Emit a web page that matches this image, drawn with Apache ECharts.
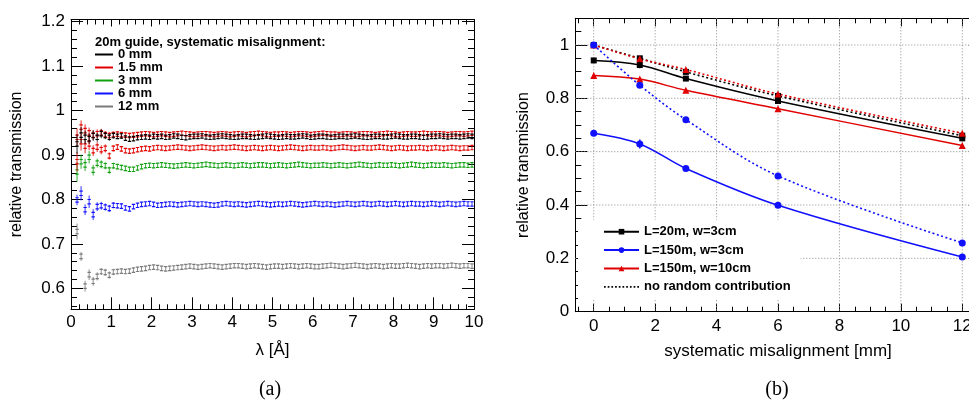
<!DOCTYPE html>
<html><head><meta charset="utf-8">
<script src="https://cdn.jsdelivr.net/npm/echarts@6/dist/echarts.min.js"></script>
<style>html,body{margin:0;padding:0;background:#fff}#c{width:969px;height:402px}</style>
</head><body><div id="c"></div><script>
// ---------- Panel (a) data: relative transmission vs wavelength ----------
const lam = [0.15,0.25,0.35,0.45,0.55,0.65,0.75,0.85,0.95,1.05,1.15,1.25,1.35,1.45,1.55,1.65,1.75,1.85,1.95,2.05,
2.15,2.25,2.35,2.45,2.55,2.65,2.75,2.85,2.95,3.05,3.15,3.25,3.35,3.45,3.55,3.65,3.75,3.85,3.95,4.05,
4.15,4.25,4.35,4.45,4.55,4.65,4.75,4.85,4.95,5.05,5.15,5.25,5.35,5.45,5.55,5.65,5.75,5.85,5.95,6.05,
6.15,6.25,6.35,6.45,6.55,6.65,6.75,6.85,6.95,7.05,7.15,7.25,7.35,7.45,7.55,7.65,7.75,7.85,7.95,8.05,
8.15,8.25,8.35,8.45,8.55,8.65,8.75,8.85,8.95,9.05,9.15,9.25,9.35,9.45,9.55,9.65,9.75,9.85,9.95];
const BIN_W = 0.1;
const STAT_ERR = 0.005;

const mm0 = [0.925,0.945,0.940,0.937,0.944,0.940,0.948,0.944,0.940,0.944,
0.942,0.943,0.938,0.936,0.937,0.939,0.940,0.941,0.940,0.942,
0.941,0.942,0.940,0.941,0.943,0.942,0.940,0.939,0.941,0.942,
0.942,0.943,0.941,0.940,0.941,0.942,0.943,0.942,0.941,0.940,
0.941,0.942,0.942,0.941,0.940,0.941,0.942,0.943,0.942,0.941,
0.940,0.941,0.942,0.941,0.941,0.942,0.943,0.942,0.940,0.941,
0.942,0.942,0.941,0.940,0.941,0.942,0.942,0.941,0.942,0.943,
0.942,0.941,0.940,0.941,0.942,0.942,0.941,0.941,0.942,0.943,
0.942,0.941,0.941,0.942,0.942,0.941,0.940,0.941,0.942,0.942,
0.943,0.942,0.941,0.942,0.942,0.941,0.942,0.943,0.942];
const mm0Err = [0.022,0.018,0.015,0.012,0.012,0.010,0.010,0.008,0.008,0.007,0.006,0.006];

const mm15a = [0.940,0.963,0.955,0.950,0.945,0.948,0.950,0.946,0.944,0.946,
0.947,0.946,0.945,0.944,0.945,0.946,0.947,0.948,0.947,0.946,
0.947,0.948,0.947,0.946,0.947,0.948,0.949,0.948,0.947,0.946,
0.947,0.948,0.948,0.947,0.946,0.947,0.948,0.947,0.946,0.947,
0.948,0.947,0.946,0.947,0.948,0.949,0.948,0.947,0.946,0.947,
0.947,0.948,0.947,0.946,0.947,0.948,0.948,0.947,0.946,0.947,
0.948,0.949,0.948,0.947,0.947,0.946,0.947,0.948,0.947,0.946,
0.947,0.948,0.948,0.947,0.946,0.947,0.948,0.949,0.948,0.947,
0.946,0.947,0.948,0.947,0.947,0.948,0.949,0.948,0.947,0.948,
0.948,0.947,0.946,0.947,0.948,0.948,0.947,0.948,0.949];
const mm15aErr = [0.020,0.015,0.014,0.012,0.011,0.010,0.009,0.008,0.008,0.007,0.006,0.006];

const mm15b = [0.885,0.930,0.920,0.925,0.910,0.918,0.912,0.915,0.898,0.915,
0.918,0.914,0.910,0.909,0.910,0.912,0.914,0.915,0.914,0.916,
0.917,0.916,0.915,0.916,0.917,0.918,0.917,0.916,0.915,0.916,
0.917,0.918,0.917,0.916,0.915,0.916,0.917,0.916,0.917,0.918,
0.917,0.916,0.915,0.916,0.917,0.916,0.915,0.916,0.917,0.916,
0.915,0.916,0.917,0.918,0.917,0.916,0.915,0.916,0.917,0.916,
0.916,0.917,0.916,0.915,0.916,0.917,0.918,0.917,0.916,0.915,
0.916,0.917,0.916,0.916,0.917,0.918,0.917,0.916,0.915,0.916,
0.917,0.916,0.915,0.916,0.916,0.917,0.916,0.915,0.916,0.917,
0.916,0.915,0.916,0.917,0.916,0.915,0.916,0.916,0.917];
const mm15bErr = [0.022,0.020,0.016,0.014,0.012,0.011,0.010,0.009,0.008,0.007,0.006,0.006];

const mm3 = [0.862,0.885,0.878,0.895,0.866,0.882,0.879,0.876,0.866,0.876,
0.874,0.872,0.870,0.868,0.868,0.871,0.874,0.876,0.877,0.876,
0.877,0.878,0.877,0.876,0.875,0.876,0.877,0.878,0.877,0.876,
0.877,0.878,0.879,0.878,0.877,0.876,0.877,0.878,0.877,0.876,
0.877,0.878,0.877,0.876,0.877,0.878,0.878,0.877,0.876,0.877,
0.878,0.877,0.876,0.877,0.878,0.879,0.878,0.877,0.876,0.877,
0.877,0.878,0.877,0.876,0.877,0.878,0.877,0.876,0.877,0.878,
0.879,0.878,0.877,0.876,0.877,0.878,0.877,0.877,0.878,0.877,
0.876,0.877,0.878,0.879,0.878,0.877,0.876,0.877,0.878,0.877,
0.877,0.878,0.877,0.876,0.877,0.878,0.878,0.877,0.878];
const mm3Err = [0.022,0.016,0.014,0.014,0.012,0.010,0.009,0.008,0.008,0.007,0.006,0.006];

const mm6 = [0.799,0.814,0.777,0.795,0.766,0.784,0.786,0.783,0.780,0.787,
0.786,0.785,0.781,0.779,0.784,0.787,0.789,0.790,0.791,0.789,
0.787,0.788,0.789,0.790,0.789,0.788,0.789,0.790,0.791,0.790,
0.789,0.790,0.789,0.788,0.787,0.788,0.790,0.791,0.790,0.789,
0.790,0.789,0.788,0.789,0.790,0.791,0.790,0.789,0.788,0.789,
0.790,0.789,0.790,0.791,0.790,0.789,0.788,0.789,0.790,0.791,
0.790,0.789,0.790,0.789,0.788,0.789,0.790,0.791,0.790,0.789,
0.790,0.791,0.790,0.789,0.790,0.791,0.790,0.789,0.790,0.791,
0.790,0.789,0.790,0.791,0.790,0.790,0.789,0.790,0.791,0.790,
0.789,0.790,0.791,0.790,0.789,0.790,0.791,0.790,0.790];
const mm6Err = [0.012,0.016,0.012,0.014,0.012,0.010,0.009,0.008,0.008,0.007,0.006,0.006];

const mm12 = [0.728,0.672,0.605,0.631,0.616,0.627,0.638,0.636,0.630,0.637,
0.638,0.639,0.638,0.639,0.641,0.643,0.644,0.645,0.647,0.648,
0.647,0.645,0.644,0.645,0.646,0.647,0.648,0.649,0.650,0.649,
0.648,0.649,0.650,0.651,0.650,0.649,0.648,0.649,0.650,0.651,
0.651,0.650,0.649,0.650,0.651,0.650,0.649,0.648,0.649,0.650,
0.650,0.649,0.650,0.651,0.650,0.649,0.650,0.651,0.650,0.649,
0.649,0.650,0.651,0.652,0.651,0.650,0.649,0.650,0.651,0.652,
0.651,0.650,0.649,0.650,0.651,0.650,0.649,0.650,0.651,0.650,
0.650,0.651,0.652,0.651,0.650,0.649,0.650,0.651,0.650,0.651,
0.651,0.650,0.651,0.652,0.651,0.650,0.651,0.651,0.650];
const mm12Err = [0.018,0.010,0.012,0.012,0.010,0.009,0.008,0.008,0.008,0.007,0.006,0.006];

const aXLabels = [0,1,2,3,4,5,6,7,8,9,10];
const aYLabels = [0.6,0.7,0.8,0.9,1,1.1,1.2];

// ---------- Panel (b) data: transmission vs systematic misalignment ----------
const misal = [0, 1.5, 3, 6, 12];
const l20w3 = [0.942, 0.925, 0.874, 0.790, 0.650];
const l20w3Err = [0.003, 0.012, 0.004, 0.003, 0.003];
const l20w3NoRand = [1.0, 0.950, 0.899, 0.809, 0.660];
const l150w3 = [0.669, 0.629, 0.537, 0.399, 0.205];
const l150w3Err = [0.008, 0.017, 0.005, 0.004, 0.004];
const l150w3NoRand = [1.0, 0.849, 0.720, 0.509, 0.258];
const l150w10 = [0.886, 0.872, 0.830, 0.761, 0.623];
const l150w10Err = [0.003, 0.004, 0.003, 0.003, 0.003];
const l150w10NoRand = [1.0, 0.948, 0.908, 0.816, 0.669];

const bXLabels = [0,2,4,6,8,10,12];
const bYLabels = [0,0.2,0.4,0.6,0.8,1];

// ---------- helpers ----------
const FONT = 'Liberation Sans, Arial, Helvetica, sans-serif';
function steps(from, to, step){ const r=[]; for(let k=0;;k++){ const v=+(from+k*step).toFixed(6); if(v>to+1e-9) break; r.push(v);} return r; }
const aXMinor = steps(0, 10, 0.2);
const aYMinor = steps(0.56, 1.2, 0.02);
const bXMinor = steps(-0.5, 12.5, 0.5);
const bYMinor = steps(0, 1.1, 0.05);

function tickAxis(gridIndex, min, max, position, ticks, len, line){
  return { type:'value', gridIndex, min, max, position,
    axisLine:{show:!!line, onZero:false, lineStyle:{color:'#000', width:1}},
    axisTick:{show:true, inside:true, length:len, customValues:ticks, lineStyle:{color:'#000', width:1}},
    axisLabel:{show:false}, splitLine:{show:false}, minorTick:{show:false}, axisPointer:{show:false} };
}
function mainAxis(gridIndex, min, max, position, ticks, len, name, nameGap, labelMargin, nameSize){
  const a = tickAxis(gridIndex, min, max, position, ticks, len, true);
  a.axisLabel = {show:true, customValues:ticks, color:'#000', fontSize:17, fontFamily:FONT, margin:labelMargin};
  a.name = name; a.nameLocation = 'middle'; a.nameGap = nameGap;
  a.nameTextStyle = {color:'#000', fontSize:nameSize, fontFamily:FONT};
  return a;
}

const A_YMIN = 0.553, A_YMAX = 1.205;
const B_XMIN = -0.6, B_XMAX = 12.6, B_YMIN = 0, B_YMAX = 1.1;

function errSeries(name, color, vals, errs, z){
  const data = lam.map((x,i)=>[x, vals[i], errs[i] !== undefined ? errs[i] : STAT_ERR]);
  return { type:'custom', name, xAxisIndex:0, yAxisIndex:0, data, z, clip:true,
    encode:{x:0, y:1}, itemStyle:{color}, silent:true,
    renderItem(params, api){
      const x=api.value(0), v=api.value(1), e=Math.max(api.value(2), STAT_ERR);
      const p=api.coord([x,v]);
      const yT=api.coord([x,v+e])[1], yB=api.coord([x,v-e])[1];
      const cT=api.coord([x,v+STAT_ERR])[1], cB=api.coord([x,v-STAT_ERR])[1];
      const hw=api.size([BIN_W,0])[0]*0.42;
      const st={stroke:color, lineWidth:1.2, fill:null};
      return {type:'group', children:[
        {type:'line', shape:{x1:p[0], y1:yT, x2:p[0], y2:yB}, style:{stroke:color, lineWidth:1, opacity:0.85}},
        {type:'line', shape:{x1:p[0]-hw, y1:cT, x2:p[0]+hw, y2:cT}, style:st},
        {type:'line', shape:{x1:p[0]-hw, y1:cB, x2:p[0]+hw, y2:cB}, style:st}
      ]};
    }
  };
}
function bErrSeries(color, vals, errs){
  return { type:'custom', xAxisIndex:4, yAxisIndex:4, z:4, silent:true,
    data: misal.map((x,i)=>[x, vals[i], errs[i]]), encode:{x:0,y:1},
    renderItem(params, api){
      const x=api.value(0), v=api.value(1), e=api.value(2);
      const t=api.coord([x,v+e]), b=api.coord([x,v-e]);
      return {type:'line', shape:{x1:t[0], y1:t[1], x2:b[0], y2:b[1]}, style:{stroke:color, lineWidth:1.5}};
    }
  };
}
function gridLines(vals, vertical){
  return { type:'custom', xAxisIndex:4, yAxisIndex:4, z:1, silent:true, clip:false,
    data: vals.map(v => vertical ? [v, 0.5] : [5, v]), encode:{x:0,y:1},
    renderItem(params, api){
      const cs = params.coordSys;
      const p = api.coord([api.value(0), api.value(1)]);
      const shape = vertical ? {x1:p[0], y1:cs.y, x2:p[0], y2:cs.y+cs.height}
                             : {x1:cs.x, y1:p[1], x2:cs.x+cs.width, y2:p[1]};
      return {type:'line', shape, style:{stroke:'#8a8a8a', lineWidth:1, lineDash:[1,2]}};
    }
  };
}
function bLine(name, vals, color, symbol, size, dotted, z){
  return { type:'line', name, xAxisIndex:4, yAxisIndex:4, z,
    data: misal.map((x,i)=>[x, vals[i]]), smooth:0.35, symbol, symbolSize:size, showAllSymbol:true,
    itemStyle:{color}, lineStyle:{color, width: dotted?1.6:1.5, type: dotted?[2,2.5]:'solid'},
    emphasis:{disabled:true}, animation:false };
}

const dotPath = 'path://' + steps(0, 32, 3.5).map(x=>`M${x} 0h1.6v1.6h-1.6z`).join('');

const C_BLACK='#000000', C_RED='#e00000', C_GREEN='#10a010', C_BLUE='#1010ff', C_GRAY='#7a7a7a';

const option = {
  animation:false,
  backgroundColor:'#fff',
  grid:[
    {left:71, top:19.5, width:403, height:289.8, outerBoundsMode:'none', containLabel:false},
    {left:575.3, top:18.3, right:-11.7, height:293.4, outerBoundsMode:'none', containLabel:false}
  ],
  xAxis:[
    mainAxis(0, 0, 10, 'bottom', aXLabels, 12, 'λ [Å]', 33, 5, 17),
    tickAxis(0, 0, 10, 'bottom', aXMinor, 5, false),
    tickAxis(0, 0, 10, 'top', aXLabels, 7, true),
    tickAxis(0, 0, 10, 'top', aXMinor, 5, false),
    mainAxis(1, B_XMIN, B_XMAX, 'bottom', bXLabels, 8, 'systematic misalignment [mm]', 31, 6, 17),
    tickAxis(1, B_XMIN, B_XMAX, 'bottom', bXMinor, 5, false),
    tickAxis(1, B_XMIN, B_XMAX, 'top', bXLabels, 8, true),
    tickAxis(1, B_XMIN, B_XMAX, 'top', bXMinor, 5, false)
  ],
  yAxis:[
    mainAxis(0, A_YMIN, A_YMAX, 'left', aYLabels, 12, 'relative transmission', 46, 6, 16),
    tickAxis(0, A_YMIN, A_YMAX, 'left', aYMinor, 6, false),
    tickAxis(0, A_YMIN, A_YMAX, 'right', aYLabels, 12, true),
    tickAxis(0, A_YMIN, A_YMAX, 'right', aYMinor, 6, false),
    mainAxis(1, B_YMIN, B_YMAX, 'left', bYLabels, 12, 'relative transmission', 44, 6, 16),
    tickAxis(1, B_YMIN, B_YMAX, 'left', bYMinor, 6, false),
    tickAxis(1, B_YMIN, B_YMAX, 'right', bYLabels, 12, true),
    tickAxis(1, B_YMIN, B_YMAX, 'right', bYMinor, 6, false)
  ],
  title:[{text:'20m guide, systematic misalignment:', left:95, top:35.5, padding:0,
    textStyle:{fontSize:13, fontWeight:'bold', fontFamily:FONT, color:'#000', lineHeight:13}}],
  legend:[
    {orient:'vertical', left:95, top:48, padding:0, itemGap:0, itemWidth:18, itemHeight:2, icon:'rect',
     selectedMode:false, data:['0 mm','1.5 mm','3 mm','6 mm','12 mm'],
     textStyle:{fontSize:13, fontWeight:'bold', fontFamily:FONT, color:'#000', lineHeight:12.2}},
    {orient:'vertical', left:578, top:219.7, padding:[5,10,5,25], itemGap:4.4, itemWidth:35, itemHeight:7,
     backgroundColor:'#fff', selectedMode:false,
     data:['L=20m, w=3cm','L=150m, w=3cm','L=150m, w=10cm',{name:'no random contribution', icon:dotPath}],
     textStyle:{fontSize:13, fontWeight:'bold', fontFamily:FONT, color:'#000', lineHeight:14}}
  ],
  graphic:[
    {type:'text', x:270, y:390, style:{text:'(a)', font:'20px "Liberation Serif", "Times New Roman", serif', fill:'#000', align:'center', verticalAlign:'middle', textAlign:'center', textVerticalAlign:'middle'}},
    {type:'text', x:777, y:390, style:{text:'(b)', font:'20px "Liberation Serif", "Times New Roman", serif', fill:'#000', align:'center', verticalAlign:'middle', textAlign:'center', textVerticalAlign:'middle'}}
  ],
  series:[
    errSeries('12 mm', C_GRAY, mm12, mm12Err, 2),
    errSeries('6 mm', C_BLUE, mm6, mm6Err, 2),
    errSeries('3 mm', C_GREEN, mm3, mm3Err, 2),
    errSeries('1.5 mm', C_RED, mm15b, mm15bErr, 2),
    errSeries('1.5 mm (set 2)', C_RED, mm15a, mm15aErr, 2),
    errSeries('0 mm', C_BLACK, mm0, mm0Err, 3),
    gridLines(bXLabels, true),
    gridLines([0.2,0.4,0.6,0.8,1], false),
    bLine('L=20m, w=3cm', l20w3, C_BLACK, 'rect', 6, false, 3),
    bLine('L=150m, w=10cm', l150w10, C_RED, 'triangle', 7, false, 3),
    bLine('L=150m, w=3cm', l150w3, C_BLUE, 'circle', 7, false, 3),
    bLine('no random contribution', l20w3NoRand, C_BLACK, 'rect', 6, true, 3),
    bLine('L=150m, w=10cm (no random)', l150w10NoRand, C_RED, 'triangle', 7, true, 3),
    bLine('L=150m, w=3cm (no random)', l150w3NoRand, C_BLUE, 'circle', 7, true, 3),
    bErrSeries(C_BLACK, l20w3, l20w3Err),
    bErrSeries(C_BLUE, l150w3, l150w3Err),
    bErrSeries(C_RED, l150w10, l150w10Err)
  ]
};
const chart = echarts.init(document.getElementById('c'), null, {renderer:'canvas'});
chart.setOption(option);
</script></body></html>
